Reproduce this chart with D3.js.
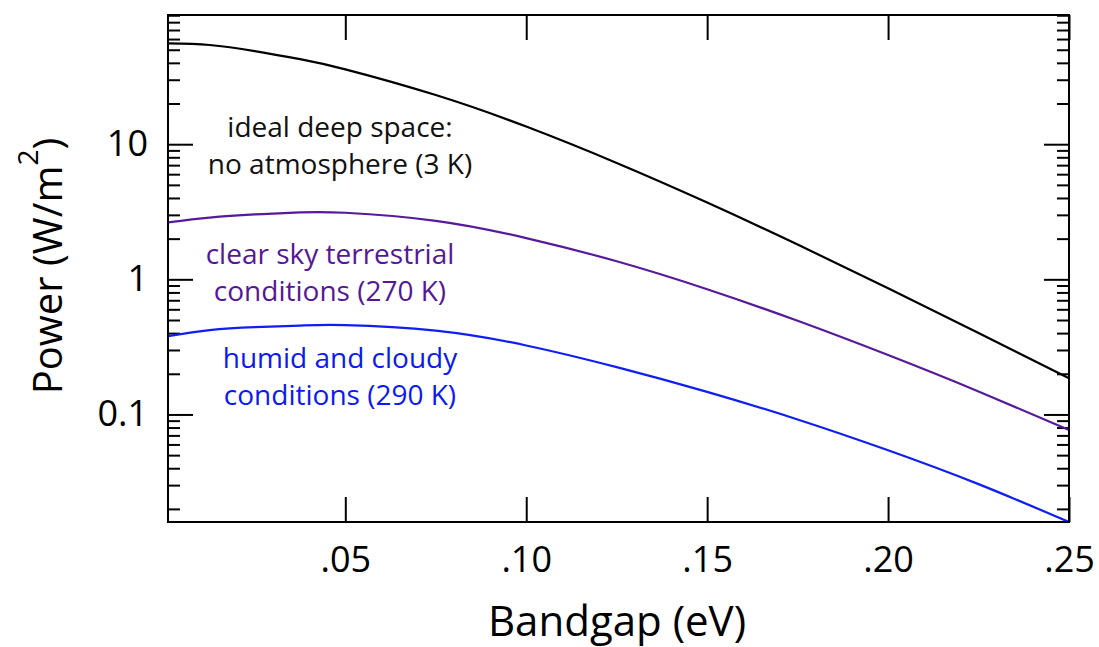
<!DOCTYPE html>
<html>
<head>
<meta charset="utf-8">
<script src="https://cdn.jsdelivr.net/npm/d3@7"></script>
<style>
  html, body { margin: 0; padding: 0; background: #fff; }
  svg { display: block; font-family: "Open Sans", sans-serif; }
</style>
</head>
<body>
<svg id="chart" width="1099" height="647"></svg>
<script>
// Bandgap (eV) sample points
const bandgap = [0.001, 0.0125, 0.025, 0.0375, 0.05, 0.075, 0.10, 0.125, 0.15, 0.175, 0.20, 0.225, 0.25];

// Power (W/m^2) for each sky condition
const deepSpace   = [55.7, 54.2, 48.9, 42.6, 35.8, 23.1, 13.5, 7.26, 3.70, 1.81, 0.859, 0.401, 0.185];
const clearSky    = [2.64, 2.86, 3.02, 3.13, 3.11, 2.71, 2.02, 1.36, 0.845, 0.493, 0.275, 0.148, 0.0769];
const humidCloudy = [0.38, 0.421, 0.443, 0.455, 0.459, 0.417, 0.324, 0.224, 0.147, 0.0918, 0.0543, 0.0305, 0.0160];

// Axis ticks
const xTickValues = [0.05, 0.10, 0.15, 0.20, 0.25];
const xTickLabels = [".05", ".10", ".15", ".20", ".25"];
const yTickValues = [0.1, 1, 10];
const yTickLabels = ["0.1", "1", "10"];

const W = 1099, H = 647;
const margin = { top: 15, right: 30, bottom: 125, left: 168 };
const innerW = W - margin.left - margin.right;
const innerH = H - margin.top - margin.bottom;

const svg = d3.select("#chart");
const g = svg.append("g").attr("transform", `translate(${margin.left},${margin.top})`);

const x = d3.scaleLinear().domain([0.001, 0.25]).range([0, innerW]);
const y = d3.scaleLog().domain([0.016, 90.4]).range([innerH, 0]);

const majorLen = 25, minorLen = 12;
const yMinor = y.ticks().filter(v => !yTickValues.some(t => Math.abs(t - v) / t < 1e-6));

function styleAxis(sel) {
  sel.select(".domain").remove();
  sel.selectAll(".tick line").attr("stroke", "#000").attr("stroke-width", 2);
  sel.selectAll(".tick text").attr("fill", "#000").style("font-size", "36px").style("font-family", '"Open Sans", sans-serif');
}

// Bottom axis with labels
g.append("g")
  .attr("transform", `translate(0,${innerH})`)
  .call(d3.axisBottom(x).tickValues(xTickValues).tickFormat((d, i) => xTickLabels[i])
    .tickSizeInner(-majorLen).tickSizeOuter(0).tickPadding(24))
  .call(styleAxis);

// Top axis (ticks only)
g.append("g")
  .call(d3.axisTop(x).tickValues(xTickValues).tickFormat("").tickSizeInner(-majorLen).tickSizeOuter(0))
  .call(styleAxis);

// Left axis: major with labels, then minor
g.append("g")
  .call(d3.axisLeft(y).tickValues(yTickValues).tickFormat((d, i) => yTickLabels[i])
    .tickSizeInner(-majorLen).tickSizeOuter(0).tickPadding(20))
  .call(styleAxis);
g.append("g")
  .call(d3.axisLeft(y).tickValues(yMinor).tickFormat("").tickSizeInner(-minorLen).tickSizeOuter(0))
  .call(styleAxis);

// Right axis mirrors the left ticks
g.append("g")
  .attr("transform", `translate(${innerW},0)`)
  .call(d3.axisRight(y).tickValues(yTickValues).tickFormat("").tickSizeInner(-majorLen).tickSizeOuter(0))
  .call(styleAxis);
g.append("g")
  .attr("transform", `translate(${innerW},0)`)
  .call(d3.axisRight(y).tickValues(yMinor).tickFormat("").tickSizeInner(-minorLen).tickSizeOuter(0))
  .call(styleAxis);

// Clip curves to the plot box
svg.append("defs").append("clipPath").attr("id", "plot-clip")
  .append("rect").attr("x", 0).attr("y", 0).attr("width", innerW).attr("height", innerH);

const line = d3.line()
  .x(d => x(d[0]))
  .y(d => y(d[1]))
  .curve(d3.curveNatural);

const series = [
  { values: deepSpace, color: "#000000" },
  { values: clearSky, color: "#561a9a" },
  { values: humidCloudy, color: "#0f1ef5" }
];

g.append("g").attr("clip-path", "url(#plot-clip)")
  .selectAll("path")
  .data(series)
  .join("path")
  .attr("d", s => line(bandgap.map((b, i) => [b, s.values[i]])))
  .attr("fill", "none")
  .attr("stroke", s => s.color)
  .attr("stroke-width", 2.2);

// Frame
g.append("rect")
  .attr("x", 0).attr("y", 0).attr("width", innerW).attr("height", innerH)
  .attr("fill", "none").attr("stroke", "#000").attr("stroke-width", 2);

// Curve annotations
const notes = [
  { lines: ["ideal deep space:", "no atmosphere (3 K)"], cx: 340, y0: 137, color: "#111111" },
  { lines: ["clear sky terrestrial", "conditions (270 K)"], cx: 330, y0: 264, color: "#541896" },
  { lines: ["humid and cloudy", "conditions (290 K)"], cx: 340, y0: 368, color: "#0a1af0" }
];
notes.forEach(n => {
  const t = svg.append("text")
    .attr("text-anchor", "middle")
    .attr("fill", n.color)
    .style("font-size", "28px");
  n.lines.forEach((l, i) => {
    t.append("tspan").attr("x", n.cx).attr("y", n.y0 + i * 37).text(l);
  });
});

// Axis titles
svg.append("text")
  .attr("x", 617).attr("y", 636)
  .attr("text-anchor", "middle")
  .attr("fill", "#000")
  .style("font-size", "42px")
  .text("Bandgap (eV)");

const yt = svg.append("text")
  .attr("transform", "translate(62,266) rotate(-90)")
  .attr("text-anchor", "middle")
  .attr("fill", "#000")
  .style("font-size", "40px");
yt.append("tspan").text("Power (W/m");
yt.append("tspan").attr("dy", -24).style("font-size", "28px").text("2");
yt.append("tspan").attr("dy", 24).text(")");
</script>
</body>
</html>
